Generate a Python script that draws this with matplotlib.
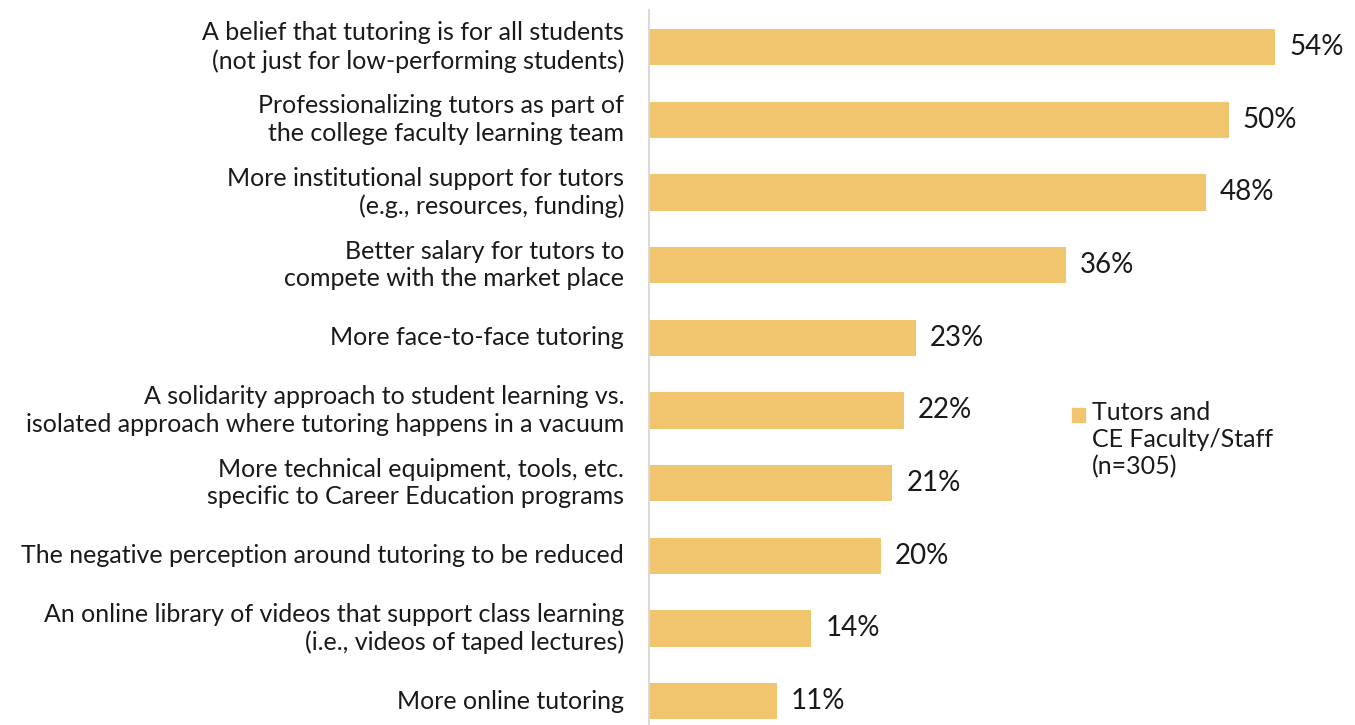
import matplotlib
matplotlib.use("Agg")
import matplotlib.pyplot as plt

categories = [
    "A belief that tutoring is for all students\n(not just for low-performing students)",
    "Professionalizing tutors as part of\nthe college faculty learning team",
    "More institutional support for tutors\n(e.g., resources, funding)",
    "Better salary for tutors to\ncompete with the market place",
    "More face-to-face tutoring",
    "A solidarity approach to student learning vs.\nisolated approach where tutoring happens in a vacuum",
    "More technical equipment, tools, etc.\nspecific to Career Education programs",
    "The negative perception around tutoring to be reduced",
    "An online library of videos that support class learning\n(i.e., videos of taped lectures)",
    "More online tutoring",
]
values = [54, 50, 48, 36, 23, 22, 21, 20, 14, 11]
series_label = "Tutors and\nCE Faculty/Staff\n(n=305)"

plt.rcParams["font.family"] = ["Lato", "DejaVu Sans"]
bar_color = "#F1C46E"
W, H = 1355, 725
fig = plt.figure(figsize=(W / 100, H / 100), dpi=100)
ax = fig.add_axes([649 / W, 0, (1340 - 649) / W, (725 - 10) / H])

pos = list(range(len(values)))
ax.barh(pos, values, height=0.5, color=bar_color)
ax.set_ylim(9.33, -0.51)
ax.set_xlim(0, 59.6)

for p, v in zip(pos, values):
    ax.annotate(f"{v}%", (v, p), xytext=(10, 0), textcoords="offset points",
                va="center", ha="left", fontsize=20, color="#1a1a1a")
    ax.annotate(categories[p], (0, p), xytext=(-18, 0), textcoords="offset points",
                va="center", ha="right", fontsize=18, color="#1a1a1a",
                linespacing=1.25)

for s in ["top", "right", "bottom"]:
    ax.spines[s].set_visible(False)
ax.spines["left"].set_color("#d9d9d9")
ax.spines["left"].set_linewidth(1.5)
ax.set_xticks([])
ax.set_yticks([])

# legend drawn by hand
fig.patches.append(plt.Rectangle((1072 / W, 1 - 422 / H), 13 / W, 14 / H,
                                 transform=fig.transFigure, color=bar_color))
fig.text(1092 / W, 1 - 401 / H, series_label, va="top", ha="left",
         fontsize=18, color="#1a1a1a", linespacing=1.2)

fig.savefig("out.png", dpi=100)
